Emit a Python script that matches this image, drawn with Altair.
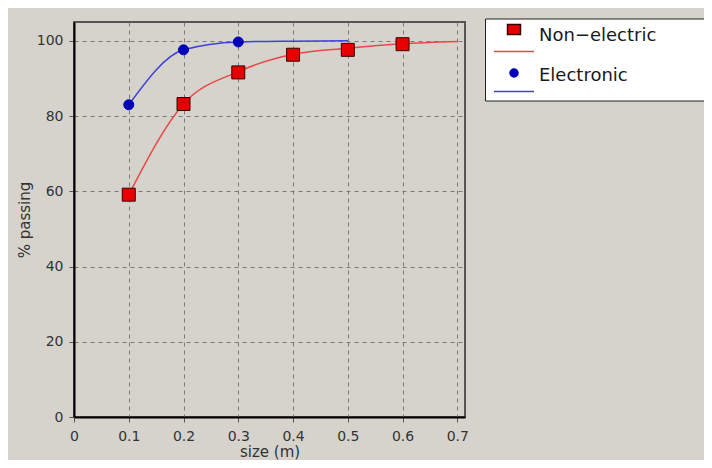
import altair as alt
import pandas as pd

NON = "Non−electric"
ELE = "Electronic"
series_order = [NON, ELE]

# measured markers
non_size = [0.1, 0.2, 0.3, 0.4, 0.5, 0.6]
non_pass = [59.1, 83.2, 91.6, 96.3, 97.6, 99.1]
ele_size = [0.1, 0.2, 0.3]
ele_pass = [83.0, 97.6, 99.7]

# fitted curves
non_curve_size = [0.1, 0.2, 0.3, 0.4, 0.5, 0.6, 0.7]
non_curve_pass = [59.1, 83.2, 91.8, 96.4, 98.0, 99.2, 99.8]
ele_curve_size = [0.1, 0.2, 0.3, 0.4, 0.5]
ele_curve_pass = [83.0, 97.6, 99.7, 99.9, 100.0]

x_tick_values = [0, 0.1, 0.2, 0.3, 0.4, 0.5, 0.6, 0.7]
y_tick_values = [0, 20, 40, 60, 80, 100]

line_colors = ["#e84848", "#4040dc"]
marker_fills = ["#e80000", "#0000b8"]

points = pd.DataFrame({
    "series": [NON] * len(non_size) + [ELE] * len(ele_size),
    "size": non_size + ele_size,
    "passing": non_pass + ele_pass,
})
curves = pd.DataFrame({
    "curve": [NON] * len(non_curve_size) + [ELE] * len(ele_curve_size),
    "size": non_curve_size + ele_curve_size,
    "passing": non_curve_pass + ele_curve_pass,
})

x_scale = alt.Scale(domain=[0, 0.714], nice=False, zero=False)
y_scale = alt.Scale(domain=[0, 105], nice=False)
x_axis = alt.Axis(values=x_tick_values, format="~g", title="size (m)", titleY=27,
                  titleFontSize=15, labelPadding=7, tickSize=5, labelFlush=False)
y_axis = alt.Axis(values=y_tick_values, title="% passing", titleX=-42,
                  labelPadding=6, tickSize=5, labelFlush=False)

# legend glyphs (unit = 10 px); trailing moves only widen the legend box
line_path = "M-2,-1.1M-2,1.6H2M19.5,0"
sq_path = "M-0.65,-1.1H0.65V-0.1H-0.65ZM-2,1.6M2,1.6"
ci_path = "M-0.4,-0.3A0.4,0.4,0,1,0,0.4,-0.3A0.4,0.4,0,1,0,-0.4,-0.3ZM-2,-1.1M-2,1.6M2,1.6"

LX, LY, ROW = 411, -3.5, 40.5
common_legend = dict(orient="none", legendX=LX, padding=6,
                     symbolSize=400, symbolStrokeWidth=1.5, symbolOffset=12,
                     labelFont="DejaVu Sans", labelFontSize=18, labelOffset=14,
                     labelLimit=400, rowPadding=7)

legend_a = alt.Legend(title=None, fillColor="white", strokeColor="#222222", legendY=LY,
                      symbolType=line_path, labelColor="#1a1a1a", zindex=1,
                      **common_legend)

legend_sq = alt.Legend(title=None, labelExpr="''", zindex=2, legendY=LY,
                       symbolType=sq_path, symbolStrokeColor="#3a0000",
                       **common_legend)
legend_ci = alt.Legend(title=None, labelExpr="''", zindex=2, legendY=LY + ROW,
                       symbolType=ci_path, symbolFillColor="#0000b8",
                       **common_legend)

lines = alt.Chart(curves).mark_line(interpolate="monotone", strokeWidth=1.5).encode(
    x=alt.X("size:Q", scale=x_scale, axis=x_axis),
    y=alt.Y("passing:Q", scale=y_scale, axis=y_axis),
    color=alt.Color("curve:N", sort=series_order,
                    scale=alt.Scale(range=line_colors), legend=legend_a),
)

squares = alt.Chart(points).transform_filter(alt.datum.series == NON).mark_square(
    size=169, opacity=1, stroke="#3a0000", strokeWidth=1
).encode(
    x=alt.X("size:Q", scale=x_scale, axis=x_axis),
    y=alt.Y("passing:Q", scale=y_scale, axis=y_axis),
    fill=alt.Fill("series:N", scale=alt.Scale(domain=[NON], range=[marker_fills[0]]),
                  legend=legend_sq),
)

circles = alt.Chart(points).transform_filter(alt.datum.series == ELE).mark_circle(
    size=100, opacity=1, fill=marker_fills[1], strokeWidth=1
).encode(
    x=alt.X("size:Q", scale=x_scale, axis=x_axis),
    y=alt.Y("passing:Q", scale=y_scale, axis=y_axis),
    stroke=alt.Stroke("series:N", scale=alt.Scale(domain=[ELE], range=[marker_fills[1]]),
                      legend=legend_ci),
)

chart = alt.layer(lines, squares, circles).properties(
    width=391, height=395,
    padding={"left": 66, "top": 14, "right": 239, "bottom": 43},
    autosize=alt.AutoSizeParams(type="none"),
).configure(
    background="#d6d3cc", font="DejaVu Sans"
).configure_view(
    fill="#d6d3cc", stroke="#555555", strokeWidth=2
).configure_axis(
    domainColor="#000000", domainWidth=2, tickColor="#555555", tickWidth=1,
    gridColor="#7a7a7a", gridDash=[4, 4], gridWidth=1,
    labelFont="DejaVu Sans", labelFontSize=14, labelColor="#333333",
    titleFont="DejaVu Sans", titleFontSize=15, titleFontWeight="normal",
    titleColor="#333333",
)

chart.save("out.html", embed_options={"renderer": "svg", "actions": False})
